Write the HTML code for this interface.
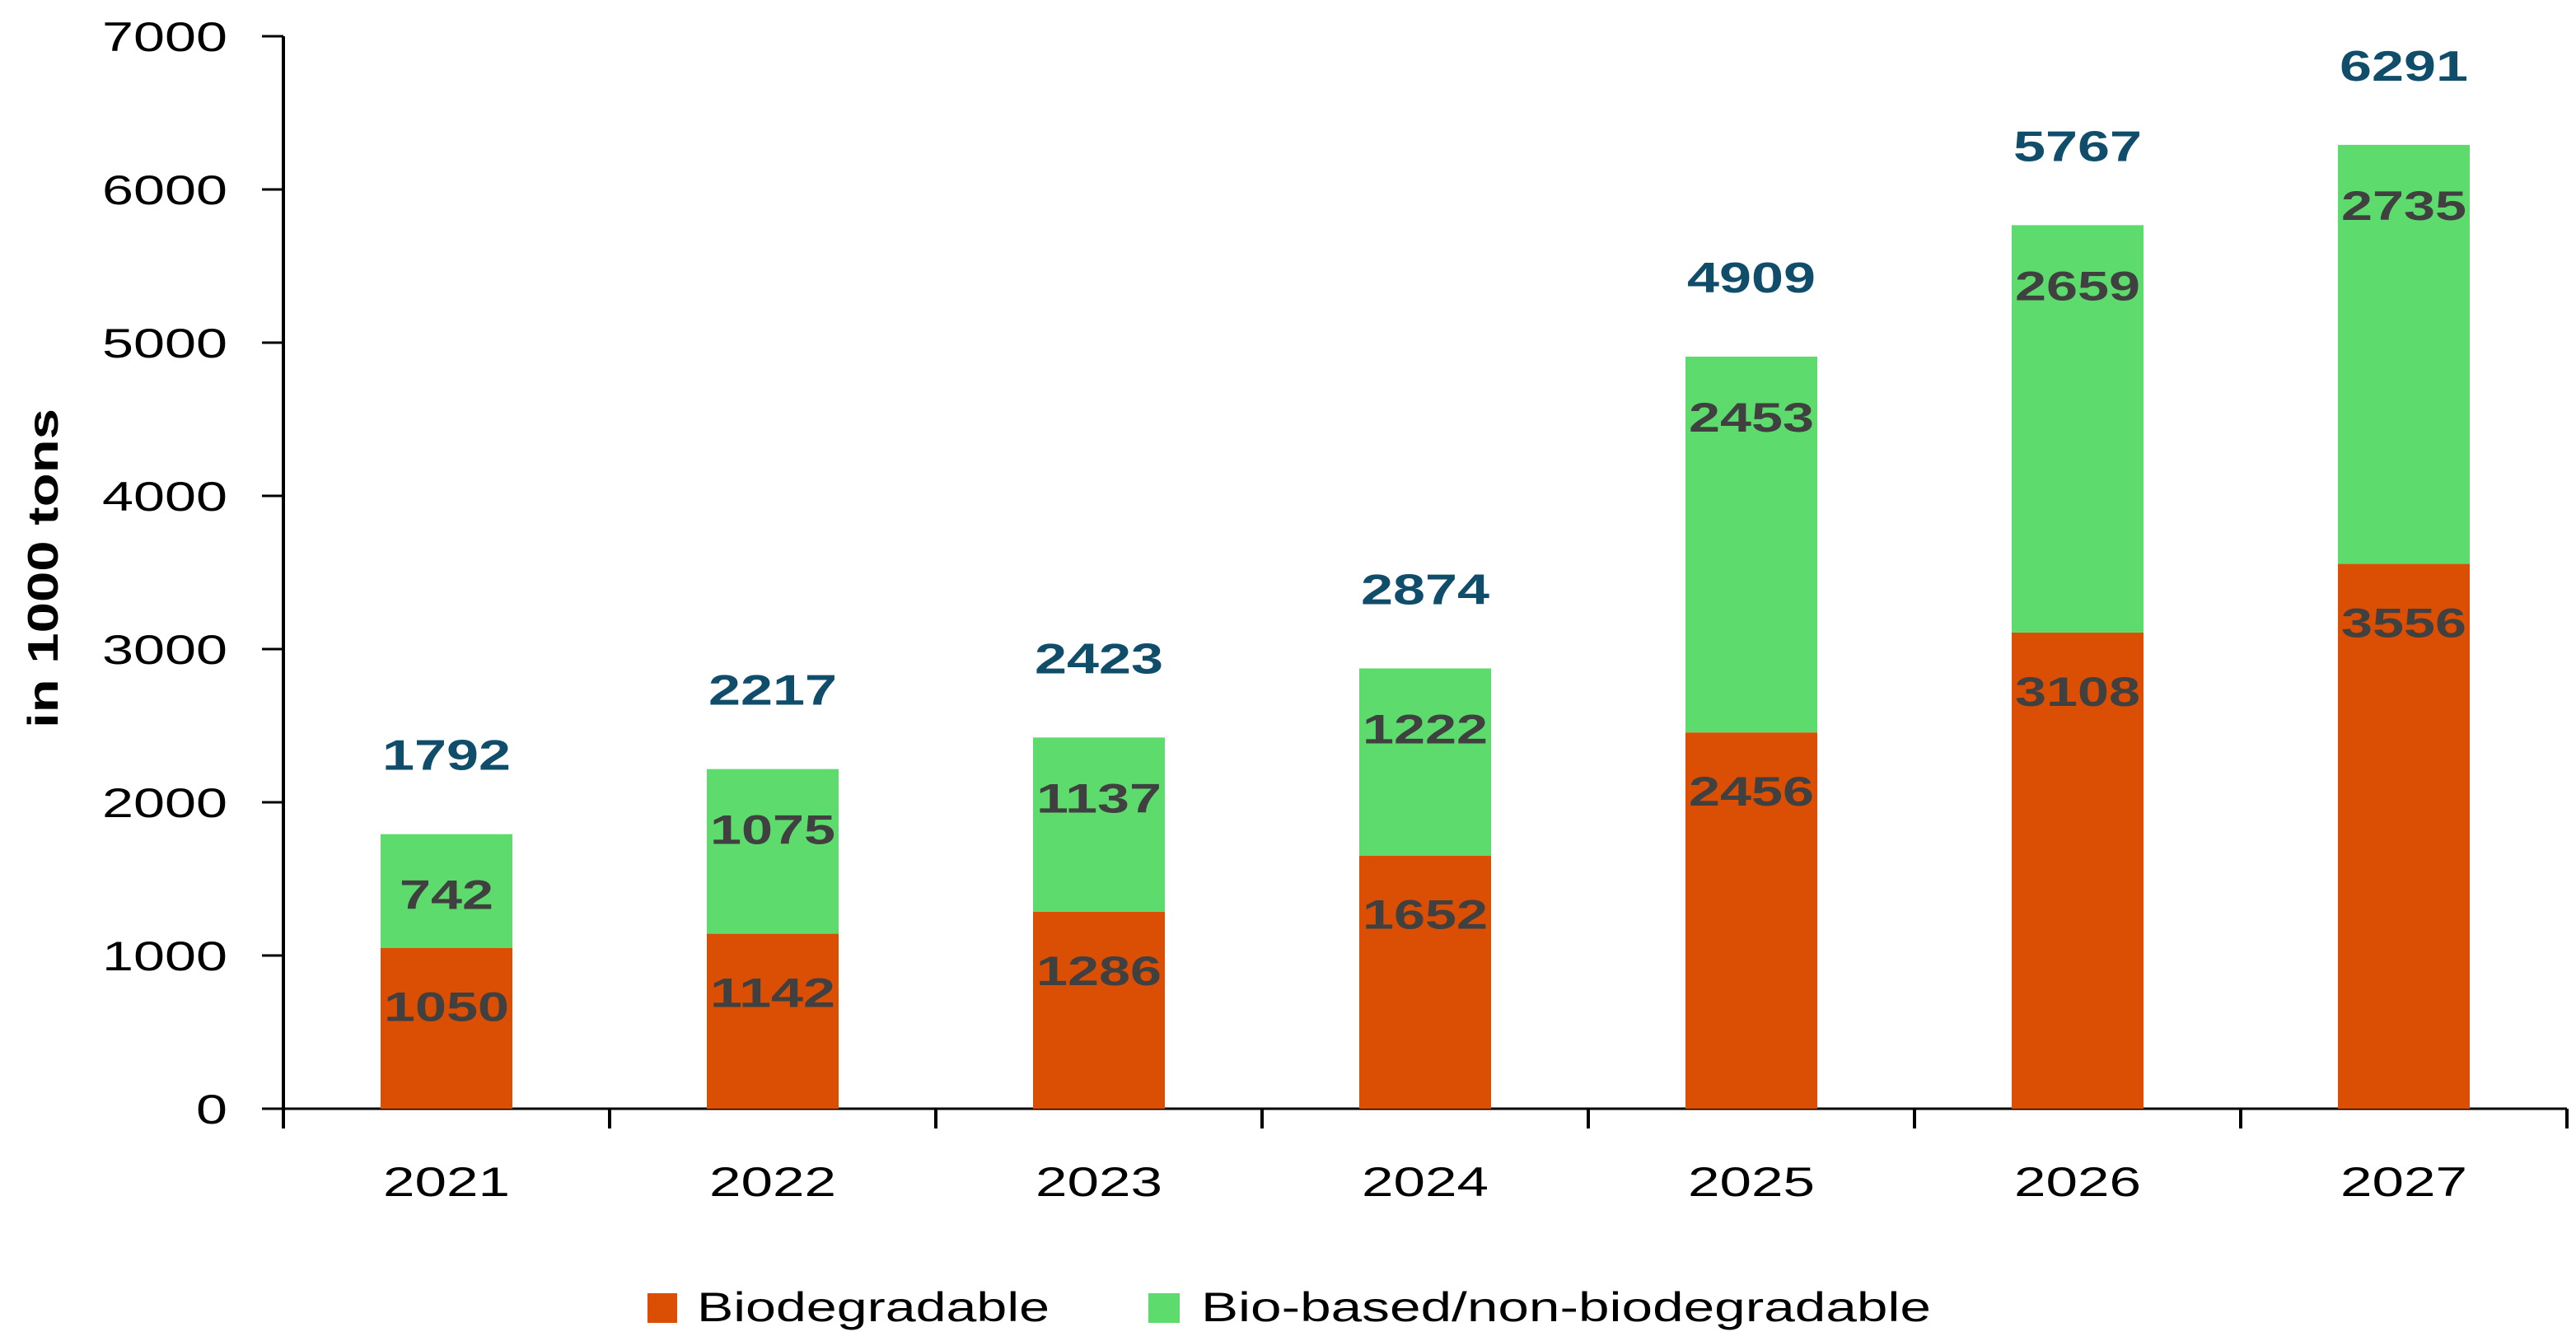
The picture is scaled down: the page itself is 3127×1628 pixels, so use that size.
<!DOCTYPE html>
<html><head><meta charset="utf-8"><style>
html,body{margin:0;padding:0;background:#fff;}
svg{display:block;font-family:"Liberation Sans",sans-serif;}
</style></head><body>
<svg id="chart" width="3127" height="1628" viewBox="0 0 3127 1628" xmlns="http://www.w3.org/2000/svg">
<text transform="translate(70,690) rotate(-90)" text-anchor="middle" font-size="52" font-weight="bold" fill="#000" textLength="388" lengthAdjust="spacingAndGlyphs">in 1000 tons</text>
<g id="grid"></g><g id="bars"></g><g id="labels"></g>
<g>
<rect x="786" y="1570" width="36" height="36" fill="#DA4F04"/>
<text x="846" y="1604" font-size="50" fill="#000" textLength="428" lengthAdjust="spacingAndGlyphs">Biodegradable</text>
<rect x="1394" y="1570" width="38" height="36" fill="#5DDB6C"/>
<text x="1458" y="1604" font-size="50" fill="#000" textLength="886" lengthAdjust="spacingAndGlyphs">Bio-based/non-biodegradable</text>
</g>
</svg>
<script>
const categories=["2021","2022","2023","2024","2025","2026","2027"];
const biodegradable=[1050,1142,1286,1652,2456,3108,3556];
const bioBased=[742,1075,1137,1222,2453,2659,2735];
const totals=[1792,2217,2423,2874,4909,5767,6291];
const yTicks=[0,1000,2000,3000,4000,5000,6000,7000];
const NS="http://www.w3.org/2000/svg";
const X0=344,X1=3116,Y0=1346,Y1=44,YMAX=7000;
const band=(X1-X0)/categories.length, bw=160;
const y=v=>Y0-(v/YMAX)*(Y0-Y1);
const xc=i=>X0+band*(i+0.5);
function mk(tag,attrs,parent,txt){const e=document.createElementNS(NS,tag);for(const k in attrs)e.setAttribute(k,attrs[k]);if(txt!==undefined)e.textContent=txt;parent.appendChild(e);return e;}
const grid=document.getElementById('grid'),bars=document.getElementById('bars'),labels=document.getElementById('labels');
let a=mk('line',{x1:X0,y1:Y1,x2:X0,y2:Y0+24,stroke:'#000','stroke-width':4},grid);


a=mk('line',{x1:X0,y1:Y0,x2:X1,y2:Y0,stroke:'#000','stroke-width':3},grid);


yTicks.forEach(t=>{
 let l=mk('line',{x1:X0-26,y1:y(t),x2:X0,y2:y(t),stroke:'#000','stroke-width':3},grid);
 
 
 let tx=mk('text',{x:276,y:y(t)+18,'text-anchor':'end','font-size':50,fill:'#000',textLength:String(t).length*38,lengthAdjust:'spacingAndGlyphs'},grid,String(t));
 
 
});
for(let i=0;i<=categories.length;i++){
 let l=mk('line',{x1:X0+band*i,y1:Y0,x2:X0+band*i,y2:Y0+24,stroke:'#000','stroke-width':4},grid);
 
 
}
categories.forEach((c,i)=>{
 const cx=xc(i);
 let r=mk('rect',{x:cx-bw/2,y:y(biodegradable[i]),width:bw,height:Y0-y(biodegradable[i]),fill:'#DA4F04'},bars);
 
 
 const top=biodegradable[i]+bioBased[i];
 r=mk('rect',{x:cx-bw/2,y:y(top),width:bw,height:y(biodegradable[i])-y(top),fill:'#5DDB6C'},bars);
 
 
 let t=mk('text',{x:cx,y:y(biodegradable[i])+89,'text-anchor':'middle','font-size':50,'font-weight':'bold',fill:'#404040',textLength:152,lengthAdjust:'spacingAndGlyphs'},labels,String(biodegradable[i]));
 
 
 t=mk('text',{x:cx,y:y(top)+91,'text-anchor':'middle','font-size':50,'font-weight':'bold',fill:'#404040',textLength:String(bioBased[i]).length*38,lengthAdjust:'spacingAndGlyphs'},labels,String(bioBased[i]));
 
 
 t=mk('text',{x:cx,y:y(totals[i])-78,'text-anchor':'middle','font-size':52,'font-weight':'bold',fill:'#0F4D6B',textLength:156,lengthAdjust:'spacingAndGlyphs'},labels,String(totals[i]));
 
 
 t=mk('text',{x:cx,y:1452,'text-anchor':'middle','font-size':50,fill:'#000',textLength:154,lengthAdjust:'spacingAndGlyphs'},labels,c);
 
 
});
</script>
</body></html>
